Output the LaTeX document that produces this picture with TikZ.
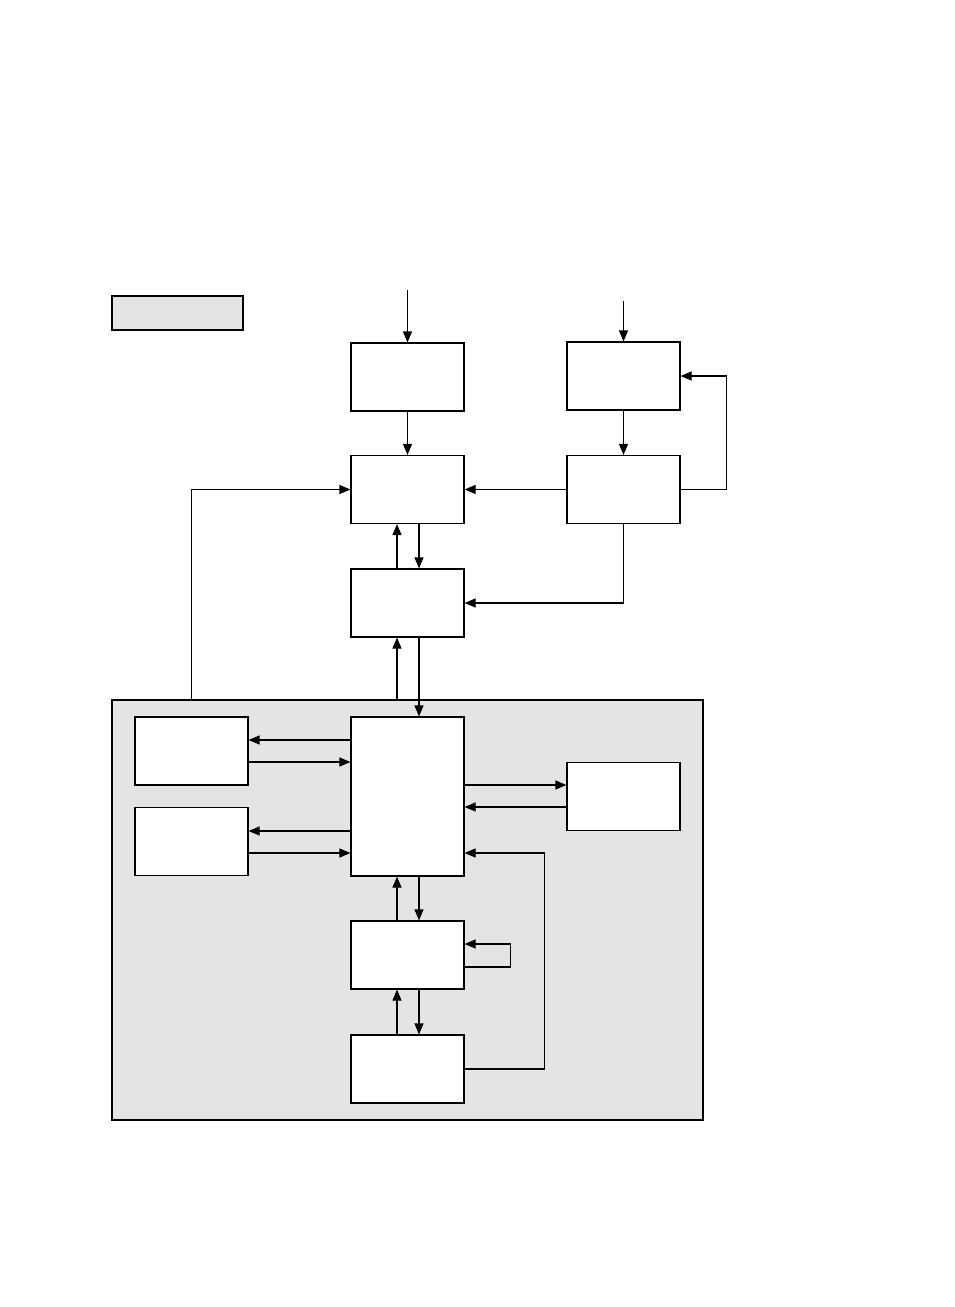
\documentclass[tikz,border=0pt]{standalone}
\usetikzlibrary{arrows.meta,positioning,calc}
\definecolor{panel}{HTML}{E4E4E4}

\begin{document}
\begin{tikzpicture}[
  x=0.5pt, y=-0.5pt,
  >={Triangle[length=5.5pt,width=4.5pt]},
  line width=0.6pt,
  blk/.style={draw, fill=white, minimum width=56.5pt, minimum height=34pt,
              inner sep=0pt},
  tall/.style={blk, minimum height=79.5pt},
  panelbox/.style={draw, fill=panel, inner sep=0pt}
]
  \useasboundingbox (0,0) rectangle (954,1307);

  % legend and shaded panel
  \node[panelbox, minimum width=65.5pt, minimum height=17pt] (legend) at (177.5,313) {};
  \node[panelbox, minimum width=295.5pt, minimum height=210pt] (core) at (407.5,910) {};

  % upper chain
  \node[blk] (inA)   at (407.5,377)   {};
  \node[blk] (inB)   at (623.5,376)   {};
  \node[blk] (merge) at (407.5,489.5) {};
  \node[blk] (fb)    at (623.5,489.5) {};
  \node[blk] (buf)   at (407.5,603)   {};

  % inside the panel
  \node[tall] (hub)   at (407.5,796.5) {};
  \node[blk]  (left1) at (191.5,751)   {};
  \node[blk]  (left2) at (191.5,841.5) {};
  \node[blk]  (side)  at (623.5,796.5) {};
  \node[blk]  (regJ)  at (407.5,955)   {};
  \node[blk]  (sink)  at (407.5,1069)  {};

  \coordinate (srcA) at (407.5,290);
  \coordinate (srcB) at (623.5,301);
  \coordinate (lnUp) at (397,0);
  \coordinate (lnDn) at (419,0);

  \draw[->] (srcA) -- (inA);
  \draw[->] (srcB) -- (inB);
  \draw[->] (inA) -- (merge);
  \draw[->] (inB) -- (fb);
  \draw[->] (fb) -- (merge);
  \draw[->] (fb.east) -- ++(46,0) |- (inB.east);
  \draw[->] (fb.south) |- (buf.east);
  \draw[->] (core.north -| left1.north) |- (merge.west);

  \draw[->] (buf.north -| lnUp) -- (merge.south -| lnUp);
  \draw[->] (merge.south -| lnDn) -- (buf.north -| lnDn);
  \draw[->] (core.north -| lnUp) -- (buf.south -| lnUp);
  \draw[->] (buf.south -| lnDn) -- (hub.north -| lnDn);

  \draw[->] ($(hub.west |- left1)+(0,-11)$) -- ($(left1.east)+(0,-11)$);
  \draw[->] ($(left1.east)+(0,11)$) -- ($(hub.west |- left1)+(0,11)$);
  \draw[->] ($(hub.west |- left2)+(0,-10.5)$) -- ($(left2.east)+(0,-10.5)$);
  \draw[->] ($(left2.east)+(0,11.5)$) -- ($(hub.west |- left2)+(0,11.5)$);
  \draw[->] ($(hub.east |- side)+(0,-11.5)$) -- ($(side.west)+(0,-11.5)$);
  \draw[->] ($(side.west)+(0,10.5)$) -- ($(hub.east |- side)+(0,10.5)$);

  \draw[->] (regJ.north -| lnUp) -- (hub.south -| lnUp);
  \draw[->] (hub.south -| lnDn) -- (regJ.north -| lnDn);
  \draw[->] (sink.north -| lnUp) -- (regJ.south -| lnUp);
  \draw[->] (regJ.south -| lnDn) -- (sink.north -| lnDn);
  \draw[->] ($(regJ.east)+(0,12)$) -- ++(46,0) |- ($(regJ.east)+(0,-11)$);
  \draw[->] (sink.east) -- ++(80,0) |- ($(hub.east)+(0,56.5)$);
\end{tikzpicture}
\end{document}
